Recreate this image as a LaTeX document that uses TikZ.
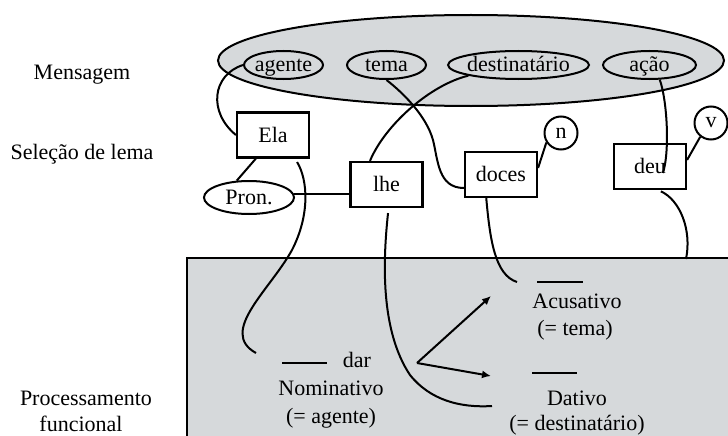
\documentclass[tikz,border=0pt]{standalone}
\usepackage{fontspec}
\setmainfont{Liberation Serif}
\usetikzlibrary{shapes.geometric,arrows.meta}
\definecolor{panel}{RGB}{214,217,219}
\begin{document}
\begin{tikzpicture}[x=1pt,y=-1pt,
  every node/.style={font=\fontsize{22}{26}\selectfont, inner sep=0pt},
  lemma/.style={draw, line width=2.2pt, fill=white, minimum width=72pt,
    minimum height=45pt, text height=14pt, text depth=0pt},
  role/.style={draw, ellipse, line width=2pt, inner xsep=-6pt,
    minimum height=28pt, text height=13pt, text depth=0pt},
  tag/.style={draw, circle, line width=2pt, minimum size=33pt, fill=white},
  link/.style={line width=2pt},
  blank/.style={line width=2.6pt},
  push/.style={line width=2pt, -{Latex[length=9pt,width=8pt]}},
  lbl/.style={anchor=base}]
\useasboundingbox (0,0) rectangle (728,436);
\clip (0,0) rectangle (728,436);

% functional processing panel
\draw[fill=panel, line width=2pt] (187,258) rectangle (745,450);

% message ellipse with its roles
\node[draw, ellipse, fill=panel, line width=2pt, minimum width=506pt,
  minimum height=91pt] (msg) at (471,60.5) {};
\node[role, minimum width=79pt] (agente) at (283.5,65) {agente};
\node[role, minimum width=79pt] (tema) at (386.5,65) {tema};
\node[role, minimum width=141pt] (dest) at (518.5,65) {destinatário};
\node[role, minimum width=93pt] (acao) at (649.5,65) {ação};

% lemma selection
\node[lemma] (ela) at (273,135) {Ela};
\node[role, minimum width=90pt, minimum height=33pt] (pron) at (249,197.5) {Pron.};
\node[lemma] (lhe) at (386.5,184.5) {lhe};
\node[lemma] (doces) at (501,174.5) {doces};
\node[lemma] (deu) at (650,166.5) {deu};
\node[tag] (n) at (561,133) {n};
\node[tag] (v) at (711,123) {v};

% level labels
\node[lbl] (lvlMsg) at (82,79) {Mensagem};
\node[lbl] (lvlSel) at (82,159) {Seleção de lema};
\node[lbl] (lvlProc) at (86,405) {Processamento};
\node[lbl] (lvlFun) at (81,431) {funcional};

% functional frame of "dar"
\node[lbl] (dar) at (357,367) {dar};
\node[lbl] (nom) at (331,395) {Nominativo};
\node[lbl] (nomR) at (331,423) {(= agente)};
\node[lbl] (acu) at (577,308) {Acusativo};
\node[lbl] (acuR) at (575,335) {(= tema)};
\node[lbl] (dat) at (577,405) {Dativo};
\node[lbl] (datR) at (577,430) {(= destinatário)};
\draw[blank] (282,363) -- (327,363);
\draw[blank] (537,282) -- (583,282);
\draw[blank] (532,373) -- (577,373);

\coordinate (fork) at (417,363);
\coordinate (acuTip) at (491,296);
\coordinate (datTip) at (491,376);
\draw[push] (fork) -- (acuTip);
\draw[push] (fork) -- (datTip);

% free ends of the links
\coordinate (deuIn) at (663,173);
\coordinate (nomIn) at (256,353);
\coordinate (datIn) at (492,406);
\coordinate (acuIn) at (517,282);
\coordinate (panelIn) at (686,259);

% links
\draw[link] (agente.west) .. controls (212,75) and (208,112) .. (ela.west);
\draw[link] (tema.south) .. controls (402,92) and (426,115) .. (433,140)
  .. controls (438,160) and (438,188) .. (doces.200);
\draw[link] (dest.192) .. controls (430,85) and (385,125) .. (lhe.125);
\draw[link] (acao.-55) .. controls (667,100) and (670,150) .. (deuIn);
\draw[link] (n.213) -- (doces.10);
\draw[link] (v.232) -- (deu.10);
\draw[link] (ela.234) -- (pron.126);
\draw[link] (pron.4) -- (pron.4 -| lhe.west);
\draw[link, shorten <=4pt] (ela.-47) .. controls (308,180) and (310,215) .. (292,250)
  .. controls (270,290) and (218,332) .. (nomIn);
\draw[link, shorten <=5pt] (lhe.-85) .. controls (383,260) and (380,330) .. (410,375)
  .. controls (430,400) and (460,408) .. (datIn);
\draw[link] (doces.238) .. controls (490,240) and (495,275) .. (acuIn);
\draw[link, shorten <=3pt] (deu.-71) .. controls (680,200) and (692,230) .. (panelIn);
\end{tikzpicture}
\end{document}
